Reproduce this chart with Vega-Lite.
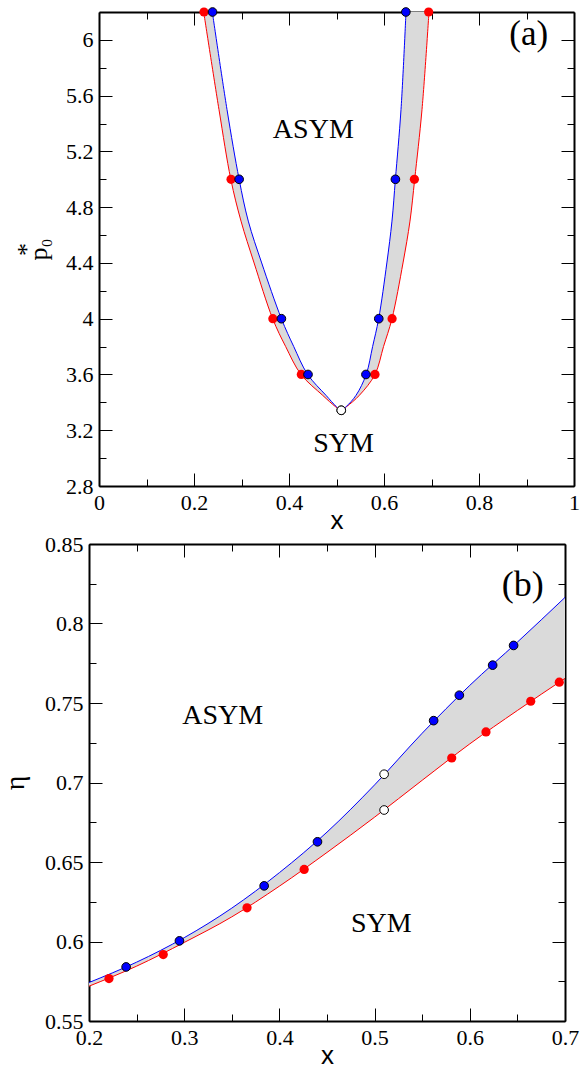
{
  "$schema": "https://vega.github.io/schema/vega-lite/v6.json",
  "padding": {"left": 0, "top": 5, "right": 5, "bottom": 0},
  "config": {
    "view": {"stroke": null},
    "font": "Liberation Serif"
  },
  "datasets": {
    "ca": [
      {"p": 6.2, "br": "L", "red": 0.2204, "blue": 0.2386},
      {"p": 5.5, "br": "L", "red": 0.2526, "blue": 0.2695},
      {"p": 5.0, "br": "L", "red": 0.2775, "blue": 0.2950},
      {"p": 4.7, "br": "L", "red": 0.2990, "blue": 0.3143},
      {"p": 4.4, "br": "L", "red": 0.3265, "blue": 0.3425},
      {"p": 4.0, "br": "L", "red": 0.3656, "blue": 0.3840},
      {"p": 3.8, "br": "L", "red": 0.3930, "blue": 0.4100},
      {"p": 3.6, "br": "L", "red": 0.4253, "blue": 0.4393},
      {"p": 3.45, "br": "L", "red": 0.4710, "blue": 0.4780},
      {"p": 3.37, "br": "L", "red": 0.4975, "blue": 0.4995},
      {"p": 3.343, "br": "L", "red": 0.5095, "blue": 0.5095},
      {"p": 3.37, "br": "R", "red": 0.5215, "blue": 0.5205},
      {"p": 3.45, "br": "R", "red": 0.5480, "blue": 0.5410},
      {"p": 3.6, "br": "R", "red": 0.5810, "blue": 0.5625},
      {"p": 3.8, "br": "R", "red": 0.5990, "blue": 0.5760},
      {"p": 4.0, "br": "R", "red": 0.6168, "blue": 0.5888},
      {"p": 4.4, "br": "R", "red": 0.6400, "blue": 0.6060},
      {"p": 4.7, "br": "R", "red": 0.6547, "blue": 0.6168},
      {"p": 5.0, "br": "R", "red": 0.6646, "blue": 0.6240},
      {"p": 5.5, "br": "R", "red": 0.6800, "blue": 0.6358},
      {"p": 6.2, "br": "R", "red": 0.6947, "blue": 0.6463}
    ],
    "cb": [
      {"x": 0.20, "red": 0.5719, "blue": 0.5742},
      {"x": 0.25, "red": 0.5845, "blue": 0.5870},
      {"x": 0.30, "red": 0.5994, "blue": 0.6024},
      {"x": 0.35, "red": 0.6155, "blue": 0.6210},
      {"x": 0.40, "red": 0.6348, "blue": 0.6433},
      {"x": 0.45, "red": 0.6560, "blue": 0.6688},
      {"x": 0.50, "red": 0.6782, "blue": 0.6985},
      {"x": 0.55, "red": 0.7014, "blue": 0.7310},
      {"x": 0.60, "red": 0.7243, "blue": 0.7611},
      {"x": 0.65, "red": 0.7453, "blue": 0.7883},
      {"x": 0.70, "red": 0.7655, "blue": 0.8164}
    ],
    "pts": [
      {"x": 0.221, "p0": 6.2, "eta": 0.5767, "c": "red"},
      {"x": 0.278, "p0": 5.0, "eta": 0.5918, "c": "red"},
      {"x": 0.366, "p0": 4.0, "eta": 0.6212, "c": "red"},
      {"x": 0.426, "p0": 3.6, "eta": 0.6453, "c": "red"},
      {"x": 0.581, "p0": 3.6, "eta": 0.7154, "c": "red"},
      {"x": 0.617, "p0": 4.0, "eta": 0.7318, "c": "red"},
      {"x": 0.664, "p0": 5.0, "eta": 0.7511, "c": "red"},
      {"x": 0.694, "p0": 6.2, "eta": 0.7631, "c": "red"},
      {"x": 0.239, "p0": 6.2, "eta": 0.5840, "c": "blue"},
      {"x": 0.295, "p0": 5.0, "eta": 0.6004, "c": "blue"},
      {"x": 0.384, "p0": 4.0, "eta": 0.6350, "c": "blue"},
      {"x": 0.440, "p0": 3.6, "eta": 0.6627, "c": "blue"},
      {"x": 0.562, "p0": 3.6, "eta": 0.7389, "c": "blue"},
      {"x": 0.589, "p0": 4.0, "eta": 0.7549, "c": "blue"},
      {"x": 0.624, "p0": 5.0, "eta": 0.7738, "c": "blue"},
      {"x": 0.646, "p0": 6.2, "eta": 0.7862, "c": "blue"},
      {"x": 0.51, "p0": 3.343, "eta": 0.7052, "c": "open"},
      {"x": 0.51, "p0": 3.343, "eta": 0.6827, "c": "open"}
    ],
    "la": [
      {"x": 0.4512, "y": 5.356, "t": "ASYM"},
      {"x": 0.5147, "y": 3.100, "t": "SYM"}
    ],
    "ka": [{"x": 0.9048, "y": 6.04, "t": "(a)"}],
    "lb": [
      {"x": 0.3404, "y": 0.7417, "t": "ASYM"},
      {"x": 0.5070, "y": 0.6111, "t": "SYM"}
    ],
    "kb": [{"x": 0.6556, "y": 0.8244, "t": "(b)"}],
    "none": []
  },
  "spacing": 0,
  "vconcat": [
    {"spacing": 0, "hconcat": [
    {"width": 1, "height": 1, "data": {"name": "none"}, "mark": "point"},
    {
      "width": 475,
      "height": 474,
      "resolve": {"axis": {"x": "independent", "y": "independent"}},
      "layer": [
        {
          "data": {"name": "ca"},
          "mark": {"type": "area", "orient": "horizontal", "color": "#dadada", "interpolate": "catmull-rom"},
          "encoding": {
            "y": {"field": "p", "type": "quantitative", "scale": {"domain": [2.8, 6.2], "nice": false, "zero": false},
              "axis": {"orient": "left", "grid": false, "values": [2.8, 3.2, 3.6, 4, 4.4, 4.8, 5.2, 5.6, 6], "format": "~g", "tickSize": -13, "tickColor": "#000000", "tickWidth": 1,
                "domainColor": "#000000", "domainWidth": 2, "labelFont": "Liberation Serif", "labelFontSize": 22, "labelColor": "#000000", "labelPadding": 19, "labelOverlap": false,
                "title": ["\u00a0", "\u00a0\u00a0\u00a0\u00a0*", "p\u2080"], "titleFont": "Liberation Serif", "titleFontSize": 26, "titleFontWeight": "normal", "titleColor": "#000000", "titleLineHeight": 12, "titlePadding": 14}},
            "x": {"field": "red", "type": "quantitative", "stack": null, "scale": {"domain": [0, 1], "nice": false, "zero": false},
              "axis": {"orient": "bottom", "grid": false, "values": [0, 0.2, 0.4, 0.6, 0.8, 1], "format": "~g", "tickSize": -13, "tickColor": "#000000", "tickWidth": 1,
                "domainColor": "#000000", "domainWidth": 2, "labelFont": "Liberation Serif", "labelFontSize": 22, "labelColor": "#000000", "labelPadding": 19, "labelFlush": false, "labelOverlap": false,
                "title": "x", "titleFont": "Liberation Sans", "titleFontSize": 26, "titleFontWeight": "normal", "titleColor": "#000000", "titlePadding": -6}},
            "x2": {"field": "blue"},
            "detail": {"field": "br"}
          }
        },
        {
          "data": {"name": "ca"},
          "mark": {"type": "line", "color": "#ff0000", "strokeWidth": 1, "interpolate": "catmull-rom"},
          "encoding": {
            "x": {"field": "red", "type": "quantitative", "scale": {"domain": [0, 1], "nice": false, "zero": false},
              "axis": {"orient": "bottom", "grid": false, "values": [0.1, 0.3, 0.5, 0.7, 0.9], "tickSize": -7, "tickColor": "#000000", "tickWidth": 1, "labels": false, "domain": false, "title": null}},
            "y": {"field": "p", "type": "quantitative", "scale": {"domain": [2.8, 6.2], "nice": false, "zero": false},
              "axis": {"orient": "left", "grid": false, "values": [3, 3.4, 3.8, 4.2, 4.6, 5, 5.4, 5.8], "tickSize": -7, "tickColor": "#000000", "tickWidth": 1, "labels": false, "domain": false, "title": null}},
            "order": {"field": "red", "type": "quantitative"}
          }
        },
        {
          "data": {"name": "ca"},
          "mark": {"type": "line", "color": "#0000ff", "strokeWidth": 1, "interpolate": "catmull-rom"},
          "encoding": {
            "x": {"field": "blue", "type": "quantitative", "scale": {"domain": [0, 1], "nice": false, "zero": false},
              "axis": {"orient": "top", "grid": false, "values": [0, 0.2, 0.4, 0.6, 0.8, 1], "tickSize": -13, "tickColor": "#000000", "tickWidth": 1, "domainColor": "#000000", "domainWidth": 2, "labels": false, "title": null}},
            "y": {"field": "p", "type": "quantitative", "scale": {"domain": [2.8, 6.2], "nice": false, "zero": false},
              "axis": {"orient": "right", "grid": false, "values": [2.8, 3.2, 3.6, 4, 4.4, 4.8, 5.2, 5.6, 6], "tickSize": -13, "tickColor": "#000000", "tickWidth": 1, "domainColor": "#000000", "domainWidth": 2, "labels": false, "title": null}},
            "order": {"field": "blue", "type": "quantitative"}
          }
        },
        {
          "data": {"name": "pts"},
          "transform": [{"filter": "datum.c === 'red'"}],
          "mark": {"type": "circle", "color": "#ff0000", "opacity": 1, "size": 85},
          "encoding": {
            "x": {"field": "x", "type": "quantitative", "scale": {"domain": [0, 1], "nice": false, "zero": false},
              "axis": {"orient": "top", "grid": false, "values": [0.1, 0.3, 0.5, 0.7, 0.9], "tickSize": -7, "tickColor": "#000000", "tickWidth": 1, "labels": false, "domain": false, "title": null}},
            "y": {"field": "p0", "type": "quantitative", "scale": {"domain": [2.8, 6.2], "nice": false, "zero": false},
              "axis": {"orient": "right", "grid": false, "values": [3, 3.4, 3.8, 4.2, 4.6, 5, 5.4, 5.8], "tickSize": -7, "tickColor": "#000000", "tickWidth": 1, "labels": false, "domain": false, "title": null}}
          }
        },
        {
          "data": {"name": "pts"},
          "transform": [{"filter": "datum.c === 'blue'"}],
          "mark": {"type": "circle", "fill": "#0000ff", "stroke": "#000000", "strokeWidth": 1, "opacity": 1, "size": 75},
          "encoding": {
            "x": {"field": "x", "type": "quantitative", "scale": {"domain": [0, 1], "nice": false, "zero": false}, "axis": null},
            "y": {"field": "p0", "type": "quantitative", "scale": {"domain": [2.8, 6.2], "nice": false, "zero": false}, "axis": null}
          }
        },
        {
          "data": {"name": "pts"},
          "transform": [{"filter": "datum.c === 'open'"}],
          "mark": {"type": "circle", "fill": "#ffffff", "stroke": "#000000", "strokeWidth": 1, "opacity": 1, "size": 75},
          "encoding": {
            "x": {"field": "x", "type": "quantitative", "scale": {"domain": [0, 1], "nice": false, "zero": false}, "axis": null},
            "y": {"field": "p0", "type": "quantitative", "scale": {"domain": [2.8, 6.2], "nice": false, "zero": false}, "axis": null}
          }
        },
        {
          "data": {"name": "la"},
          "mark": {"type": "text", "font": "Liberation Serif", "fontSize": 28, "color": "#000000", "align": "center", "baseline": "middle"},
          "encoding": {
            "x": {"field": "x", "type": "quantitative", "scale": {"domain": [0, 1], "nice": false, "zero": false}, "axis": null},
            "y": {"field": "y", "type": "quantitative", "scale": {"domain": [2.8, 6.2], "nice": false, "zero": false}, "axis": null},
            "text": {"field": "t"}
          }
        },
        {
          "data": {"name": "ka"},
          "mark": {"type": "text", "font": "Liberation Serif", "fontSize": 35, "color": "#000000", "align": "center", "baseline": "middle"},
          "encoding": {
            "x": {"field": "x", "type": "quantitative", "scale": {"domain": [0, 1], "nice": false, "zero": false}, "axis": null},
            "y": {"field": "y", "type": "quantitative", "scale": {"domain": [2.8, 6.2], "nice": false, "zero": false}, "axis": null},
            "text": {"field": "t"}
          }
        }
      ]
    }]},
    {"spacing": 0, "hconcat": [
    {"width": 1, "height": 1, "data": {"name": "none"}, "mark": "point"},
    {
      "width": 476,
      "height": 477,
      "resolve": {"axis": {"x": "independent", "y": "independent"}},
      "layer": [
        {
          "data": {"name": "cb"},
          "mark": {"type": "area", "color": "#dadada", "interpolate": "monotone"},
          "encoding": {
            "x": {"field": "x", "type": "quantitative", "scale": {"domain": [0.2, 0.7], "nice": false, "zero": false},
              "axis": {"orient": "bottom", "grid": false, "values": [0.2, 0.3, 0.4, 0.5, 0.6, 0.7], "format": "~g", "tickSize": -13, "tickColor": "#000000", "tickWidth": 1,
                "domainColor": "#000000", "domainWidth": 2, "labelFont": "Liberation Serif", "labelFontSize": 22, "labelColor": "#000000", "labelPadding": 19, "labelFlush": false, "labelOverlap": false,
                "title": "x", "titleFont": "Liberation Sans", "titleFontSize": 26, "titleFontWeight": "normal", "titleColor": "#000000", "titlePadding": -6}},
            "y": {"field": "red", "type": "quantitative", "stack": null, "scale": {"domain": [0.55, 0.85], "nice": false, "zero": false},
              "axis": {"orient": "left", "grid": false, "values": [0.55, 0.6, 0.65, 0.7, 0.75, 0.8, 0.85], "format": "~g", "tickSize": -13, "tickColor": "#000000", "tickWidth": 1,
                "domainColor": "#000000", "domainWidth": 2, "labelFont": "Liberation Serif", "labelFontSize": 22, "labelColor": "#000000", "labelPadding": 19, "labelOverlap": false,
                "title": "\u03b7", "titleFont": "Liberation Serif", "titleFontSize": 28, "titleFontWeight": "normal", "titleColor": "#000000", "titlePadding": 15}},
            "y2": {"field": "blue"}
          }
        },
        {
          "data": {"name": "cb"},
          "mark": {"type": "line", "color": "#ff0000", "strokeWidth": 1, "interpolate": "monotone"},
          "encoding": {
            "x": {"field": "x", "type": "quantitative", "scale": {"domain": [0.2, 0.7], "nice": false, "zero": false},
              "axis": {"orient": "bottom", "grid": false, "values": [0.25, 0.35, 0.45, 0.55, 0.65], "tickSize": -7, "tickColor": "#000000", "tickWidth": 1, "labels": false, "domain": false, "title": null}},
            "y": {"field": "red", "type": "quantitative", "scale": {"domain": [0.55, 0.85], "nice": false, "zero": false},
              "axis": {"orient": "left", "grid": false, "values": [0.575, 0.625, 0.675, 0.725, 0.775, 0.825], "tickSize": -7, "tickColor": "#000000", "tickWidth": 1, "labels": false, "domain": false, "title": null}}
          }
        },
        {
          "data": {"name": "cb"},
          "mark": {"type": "line", "color": "#0000ff", "strokeWidth": 1, "interpolate": "monotone"},
          "encoding": {
            "x": {"field": "x", "type": "quantitative", "scale": {"domain": [0.2, 0.7], "nice": false, "zero": false},
              "axis": {"orient": "top", "grid": false, "values": [0.2, 0.3, 0.4, 0.5, 0.6, 0.7], "tickSize": -13, "tickColor": "#000000", "tickWidth": 1, "domainColor": "#000000", "domainWidth": 2, "labels": false, "title": null}},
            "y": {"field": "blue", "type": "quantitative", "scale": {"domain": [0.55, 0.85], "nice": false, "zero": false},
              "axis": {"orient": "right", "grid": false, "values": [0.55, 0.6, 0.65, 0.7, 0.75, 0.8, 0.85], "tickSize": -13, "tickColor": "#000000", "tickWidth": 1, "domainColor": "#000000", "domainWidth": 2, "labels": false, "title": null}}
          }
        },
        {
          "data": {"name": "pts"},
          "transform": [{"filter": "datum.c === 'red'"}],
          "mark": {"type": "circle", "color": "#ff0000", "opacity": 1, "size": 85},
          "encoding": {
            "x": {"field": "x", "type": "quantitative", "scale": {"domain": [0.2, 0.7], "nice": false, "zero": false},
              "axis": {"orient": "top", "grid": false, "values": [0.25, 0.35, 0.45, 0.55, 0.65], "tickSize": -7, "tickColor": "#000000", "tickWidth": 1, "labels": false, "domain": false, "title": null}},
            "y": {"field": "eta", "type": "quantitative", "scale": {"domain": [0.55, 0.85], "nice": false, "zero": false},
              "axis": {"orient": "right", "grid": false, "values": [0.575, 0.625, 0.675, 0.725, 0.775, 0.825], "tickSize": -7, "tickColor": "#000000", "tickWidth": 1, "labels": false, "domain": false, "title": null}}
          }
        },
        {
          "data": {"name": "pts"},
          "transform": [{"filter": "datum.c === 'blue'"}],
          "mark": {"type": "circle", "fill": "#0000ff", "stroke": "#000000", "strokeWidth": 1, "opacity": 1, "size": 75},
          "encoding": {
            "x": {"field": "x", "type": "quantitative", "scale": {"domain": [0.2, 0.7], "nice": false, "zero": false}, "axis": null},
            "y": {"field": "eta", "type": "quantitative", "scale": {"domain": [0.55, 0.85], "nice": false, "zero": false}, "axis": null}
          }
        },
        {
          "data": {"name": "pts"},
          "transform": [{"filter": "datum.c === 'open'"}],
          "mark": {"type": "circle", "fill": "#ffffff", "stroke": "#000000", "strokeWidth": 1, "opacity": 1, "size": 75},
          "encoding": {
            "x": {"field": "x", "type": "quantitative", "scale": {"domain": [0.2, 0.7], "nice": false, "zero": false}, "axis": null},
            "y": {"field": "eta", "type": "quantitative", "scale": {"domain": [0.55, 0.85], "nice": false, "zero": false}, "axis": null}
          }
        },
        {
          "data": {"name": "lb"},
          "mark": {"type": "text", "font": "Liberation Serif", "fontSize": 28, "color": "#000000", "align": "center", "baseline": "middle"},
          "encoding": {
            "x": {"field": "x", "type": "quantitative", "scale": {"domain": [0.2, 0.7], "nice": false, "zero": false}, "axis": null},
            "y": {"field": "y", "type": "quantitative", "scale": {"domain": [0.55, 0.85], "nice": false, "zero": false}, "axis": null},
            "text": {"field": "t"}
          }
        },
        {
          "data": {"name": "kb"},
          "mark": {"type": "text", "font": "Liberation Serif", "fontSize": 36, "color": "#000000", "align": "center", "baseline": "middle"},
          "encoding": {
            "x": {"field": "x", "type": "quantitative", "scale": {"domain": [0.2, 0.7], "nice": false, "zero": false}, "axis": null},
            "y": {"field": "y", "type": "quantitative", "scale": {"domain": [0.55, 0.85], "nice": false, "zero": false}, "axis": null},
            "text": {"field": "t"}
          }
        }
      ]
    }]}
  ]
}
